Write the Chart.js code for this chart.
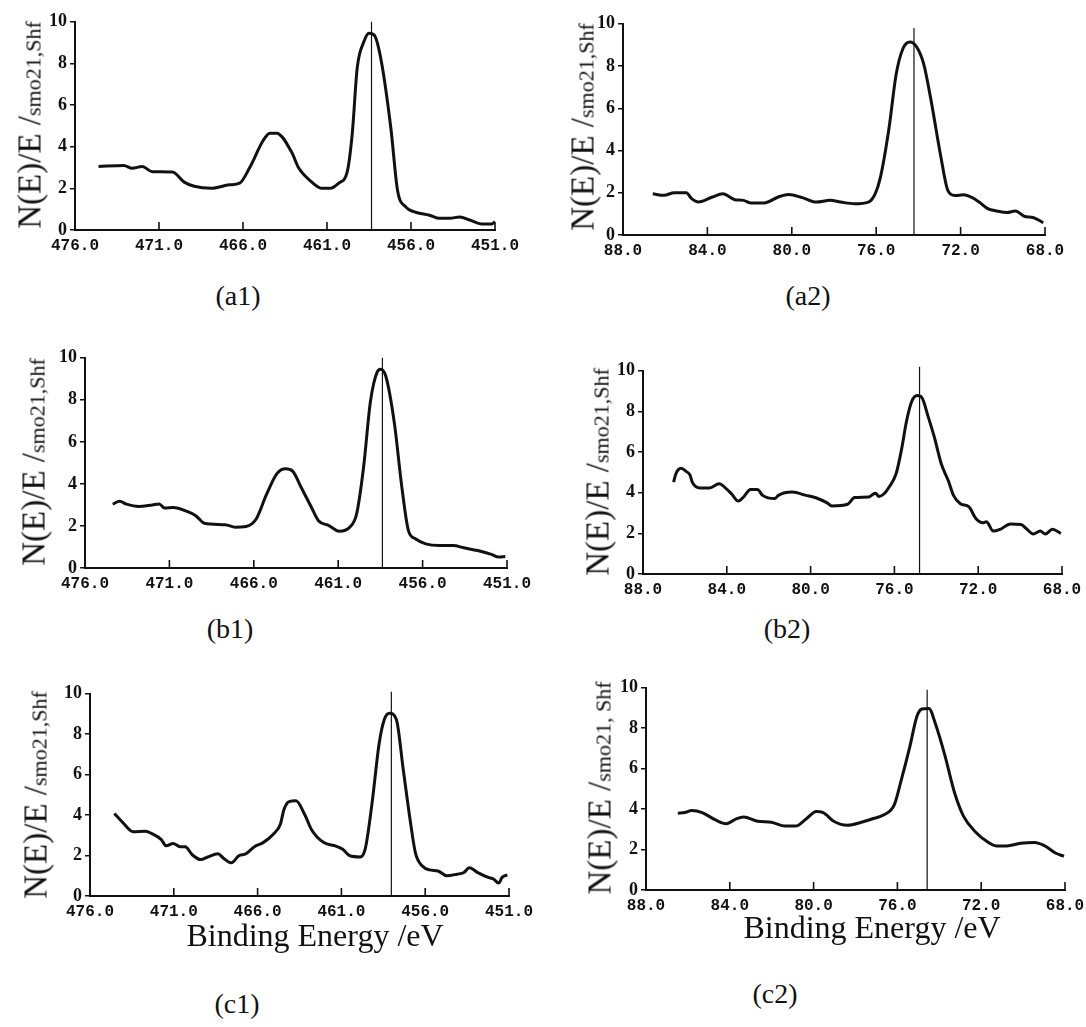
<!DOCTYPE html>
<html>
<head>
<meta charset="utf-8">
<script src="https://cdn.jsdelivr.net/npm/chart.js@4.4.0/dist/chart.umd.min.js"></script>
<style>
  html, body { margin: 0; padding: 0; background: #fff; }
  #page { position: relative; width: 1086px; height: 1027px; overflow: hidden; background: #fff; }
  canvas { position: absolute; }
  .txt { position: absolute; white-space: nowrap; font-family: "Liberation Serif", "Times New Roman", serif; color: #111; line-height: 1; }
  .ylab { position: absolute; white-space: nowrap; font-family: "Liberation Serif", "Times New Roman", serif; color: #111; line-height: 1; transform: translate(-50%, -50%) rotate(-90deg); }
  .ylab .big { font-size: 33px; }
  .ylab .small { font-size: 22px; }
</style>
</head>
<body>
<div id="page"></div>
<script>
// ---------- data ----------
const yTicks = [0, 2, 4, 6, 8, 10];
const tiTicks = [451, 456, 461, 466, 471, 476];   // left column panels
const ruTicks = [68, 72, 76, 80, 84, 88];        // right column panels

const a1Energy = [474.6,473.1,472.6,472.0,471.4,470.2,469.5,468.9,467.9,466.8,466.2,465.6,464.8,464.4,464.0,463.1,462.7,461.9,461.3,460.8,460.3,459.8,459.5,459.2,458.8,458.5,458.2,457.8,457.2,456.8,456.3,455.8,454.9,454.3,453.7,453.1,452.5,451.8,451.2,451.0];
const a1Intensity = [3.05,3.1,2.97,3.05,2.8,2.78,2.3,2.1,2.0,2.17,2.25,3.0,4.3,4.65,4.65,3.73,3.0,2.3,2.0,2.0,2.25,2.78,4.6,7.8,9.05,9.45,9.37,8.25,4.9,1.9,1.1,0.87,0.71,0.56,0.56,0.63,0.48,0.29,0.29,0.4];

const a2Energy = [86.59,86.06,85.57,85.0,84.75,84.42,83.76,83.27,82.7,82.29,81.96,81.3,80.64,80.15,79.5,78.84,78.18,77.69,77.03,76.37,76.05,75.8,75.39,75.06,74.73,74.4,74.08,73.75,73.42,72.93,72.6,72.27,71.86,71.45,71.12,70.71,70.3,69.8,69.4,68.99,68.57,68.08];
const a2Intensity = [1.95,1.88,2.0,2.0,1.72,1.56,1.8,1.95,1.67,1.64,1.52,1.52,1.8,1.92,1.77,1.56,1.64,1.56,1.48,1.56,1.95,2.73,5.08,7.58,8.83,9.14,8.9,8.1,6.48,3.67,2.1,1.87,1.9,1.77,1.56,1.25,1.14,1.06,1.14,0.89,0.83,0.58];

const b1Energy = [474.36,473.95,473.54,472.82,472.0,471.6,471.29,470.77,469.95,469.44,468.93,467.7,467.09,466.47,465.86,465.24,464.63,464.11,463.7,463.19,462.58,462.17,461.55,460.94,460.32,459.91,459.5,459.09,458.68,458.48,458.17,457.66,457.25,456.84,456.43,455.82,455.0,454.18,453.56,452.74,451.92,451.5,451.1];
const b1Intensity = [3.04,3.17,3.04,2.93,3.0,3.04,2.85,2.88,2.69,2.49,2.13,2.06,1.94,1.97,2.33,3.51,4.49,4.72,4.61,3.83,2.88,2.25,2.02,1.75,1.94,2.57,4.77,7.92,9.34,9.46,9.1,6.82,3.98,1.78,1.39,1.15,1.07,1.07,0.96,0.83,0.65,0.52,0.55];

const b2Energy = [86.54,86.43,86.18,85.93,85.76,85.65,85.27,84.85,84.36,84.03,83.78,83.45,83.2,82.87,82.54,82.29,81.71,81.54,80.88,80.22,79.72,79.23,78.98,78.23,77.9,77.24,76.91,76.74,76.49,76.25,75.92,75.67,75.42,75.17,74.92,74.68,74.42,74.09,73.76,73.43,73.18,72.85,72.44,72.11,71.78,71.61,71.28,70.95,70.46,69.96,69.71,69.37,69.04,68.79,68.46,68.05];
const b2Intensity = [4.52,4.93,5.2,5.04,4.88,4.52,4.23,4.23,4.44,4.2,3.95,3.59,3.79,4.16,4.16,3.87,3.71,3.87,4.03,3.87,3.74,3.51,3.35,3.43,3.76,3.79,3.98,3.82,3.95,4.28,4.93,6.07,7.53,8.5,8.78,8.67,7.85,6.72,5.41,4.6,3.87,3.46,3.3,2.73,2.52,2.57,2.11,2.2,2.46,2.44,2.24,1.97,2.11,1.97,2.2,2.0];

const c1Energy = [474.55,474.04,473.42,472.69,472.28,471.76,471.45,471.04,470.63,470.32,469.9,469.39,468.98,468.36,468.05,467.57,467.12,466.7,466.19,465.67,465.05,464.64,464.43,464.12,463.71,463.19,462.78,462.05,461.33,460.92,460.5,459.88,459.57,459.16,458.75,458.44,458.13,457.72,457.31,456.89,456.58,456.17,455.75,455.24,454.72,454.1,453.69,453.37,452.86,452.24,451.93,451.62,451.41,451.1];
const c1Intensity = [4.08,3.63,3.18,3.2,3.07,2.8,2.48,2.6,2.44,2.44,2.04,1.8,1.93,2.09,1.88,1.64,1.99,2.09,2.44,2.64,3.07,3.55,4.27,4.67,4.71,4.03,3.28,2.64,2.47,2.31,1.99,1.93,2.36,4.67,7.53,8.73,9.04,8.73,6.26,3.71,2.12,1.48,1.29,1.24,1.0,1.08,1.16,1.4,1.16,0.92,0.84,0.64,0.92,1.04];

const c2Energy = [86.48,86.15,85.82,85.32,84.66,84.17,83.67,83.34,82.68,82.02,81.36,80.86,80.36,79.87,79.54,79.04,78.38,77.72,77.22,76.64,76.15,75.82,75.4,75.07,74.83,74.5,74.17,73.75,73.26,72.84,72.26,71.77,71.27,70.78,70.12,69.46,68.96,68.46,68.05];
const c2Intensity = [3.8,3.83,3.93,3.83,3.45,3.28,3.53,3.61,3.4,3.35,3.16,3.16,3.51,3.88,3.83,3.4,3.2,3.35,3.51,3.72,4.21,5.42,7.12,8.58,8.95,8.98,8.17,6.72,4.77,3.64,2.86,2.43,2.18,2.18,2.31,2.35,2.18,1.83,1.67];

// peak marker lines: position (eV) and top value
const peakEnergy = [458.35, 74.21, 458.38, 74.8, 458.02, 74.58];
const peakTop = [10.0, 9.8, 10.0, 10.2, 10.1, 9.9];

const panelNames = ["(a1)", "(a2)", "(b1)", "(b2)", "(c1)", "(c2)"];
const yLabelBig = "N(E)/E /";
const yLabelSmall = ["smo21,Shf", "smo21,Shf", "smo21,Shf", "smo21,Shf", "smo21,Shf", "smo21, Shf"];
const xTitle = "Binding Energy /eV";

// ---------- layout (page pixels) ----------
const areas = [
  {L: 74.5, T: 20,    R: 495,    B: 230},
  {L: 623.3, T: 21.7, R: 1045,   B: 235},
  {L: 84.8, T: 356,   R: 507,    B: 567.7},
  {L: 643.4, T: 369.3, R: 1061.8, B: 574.3},
  {L: 90,   T: 691.7, R: 509,    B: 896},
  {L: 646.2, T: 685.7, R: 1065,  B: 890}
];
const yLabelPos = [[30,125],[583,127],[34,462],[598,472],[36,795],[600,788]];
const captionPos = [[238,306],[808,306],[230,639],[787,639],[237,1014],[775,1004]]; // center x, baseline
const xTitlePos = [[315,946],[872,938]];

const series = [
  [a1Energy, a1Intensity, tiTicks],
  [a2Energy, a2Intensity, ruTicks],
  [b1Energy, b1Intensity, tiTicks],
  [b2Energy, b2Intensity, ruTicks],
  [c1Energy, c1Intensity, tiTicks],
  [c2Energy, c2Intensity, ruTicks]
];

const page = document.getElementById('page');
const YW = 50, PADT = 12, PADR = 34, XH = 30;

const inwardTicks = {
  id: 'inwardTicks',
  afterDatasetsDraw(chart) {
    const xs = chart.scales.x, ctx = chart.ctx, a = chart.chartArea;
    ctx.save();
    ctx.strokeStyle = '#111';
    ctx.lineWidth = 1.6;
    xs.ticks.forEach(t => {
      const px = xs.getPixelForValue(t.value);
      ctx.beginPath();
      ctx.moveTo(px, a.bottom);
      ctx.lineTo(px, a.bottom - 8);
      ctx.stroke();
    });
    ctx.restore();
  }
};

series.forEach((s, i) => {
  const [en, inten, ticks] = s;
  const ar = areas[i];
  const left = Math.round(ar.L - YW), top = Math.round(ar.T - PADT);
  const w = Math.round(ar.R - left + PADR), h = Math.round(ar.B - top + XH);
  const cv = document.createElement('canvas');
  cv.width = w; cv.height = h;
  cv.style.left = left + 'px'; cv.style.top = top + 'px';
  cv.style.width = w + 'px'; cv.style.height = h + 'px';
  page.appendChild(cv);
  const pts = en.map((e, k) => ({x: e, y: inten[k]}));
  new Chart(cv, {
    type: 'line',
    data: {
      datasets: [
        {data: pts, borderColor: '#111', borderWidth: 3, pointRadius: 0, cubicInterpolationMode: 'monotone', fill: false},
        {data: [{x: peakEnergy[i], y: 0}, {x: peakEnergy[i], y: peakTop[i]}], borderColor: '#111', borderWidth: 1.2, pointRadius: 0, clip: false}
      ]
    },
    options: {
      responsive: false,
      animation: false,
      devicePixelRatio: 1,
      layout: {padding: {top: PADT, right: PADR, left: 0, bottom: 0}},
      plugins: {legend: {display: false}, tooltip: {enabled: false}},
      scales: {
        x: {
          type: 'linear', reverse: true,
          min: Math.min(...ticks), max: Math.max(...ticks),
          afterBuildTicks: sc => { sc.ticks = ticks.map(v => ({value: v})); },
          afterFit: sc => { sc.height = XH; },
          grid: {display: false, drawTicks: false},
          border: {display: true, color: '#111', width: 2},
          ticks: {
            autoSkip: false, maxRotation: 0, padding: 6, color: '#111',
            font: {family: '"Liberation Mono", "DejaVu Sans Mono", monospace', size: 16, weight: 'bold'},
            callback: v => Number(v).toFixed(1)
          }
        },
        y: {
          type: 'linear', min: 0, max: 10,
          afterBuildTicks: sc => { sc.ticks = yTicks.map(v => ({value: v})); },
          afterFit: sc => { sc.width = YW; },
          grid: {display: true, drawOnChartArea: false, drawTicks: true, tickLength: 5, color: '#111', lineWidth: 1.5},
          border: {display: true, color: '#111', width: 2},
          ticks: {
            padding: 3, color: '#111',
            font: {family: '"Liberation Serif", serif', size: 18, weight: 'bold'}
          }
        }
      }
    },
    plugins: [inwardTicks]
  });

  // y-axis label
  const yl = document.createElement('div');
  yl.className = 'ylab';
  yl.style.left = yLabelPos[i][0] + 'px';
  yl.style.top = yLabelPos[i][1] + 'px';
  yl.innerHTML = '<span class="big">' + yLabelBig + '</span><span class="small">' + yLabelSmall[i] + '</span>';
  page.appendChild(yl);

  // caption
  const cap = document.createElement('div');
  cap.className = 'txt';
  cap.style.fontSize = '28px';
  cap.textContent = panelNames[i];
  cap.style.left = captionPos[i][0] + 'px';
  cap.style.top = (captionPos[i][1] - 0.84 * 28) + 'px';
  cap.style.transform = 'translateX(-50%)';
  page.appendChild(cap);
});

xTitlePos.forEach(p => {
  const d = document.createElement('div');
  d.className = 'txt';
  d.style.fontSize = '32px';
  d.textContent = xTitle;
  d.style.left = p[0] + 'px';
  d.style.top = (p[1] - 0.84 * 32) + 'px';
  d.style.transform = 'translateX(-50%)';
  page.appendChild(d);
});
</script>
</body>
</html>
